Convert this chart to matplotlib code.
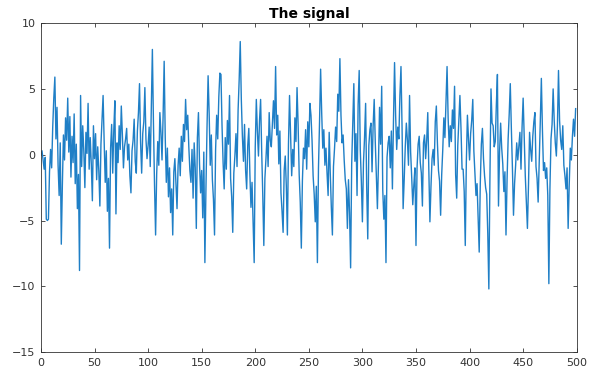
import numpy as np
import matplotlib
matplotlib.use("Agg")
import matplotlib.pyplot as plt

# signal values (500 samples)
signal = [
    0.0, 0.3, -0.4, -1.1, -0.2, -4.9, -5.0, -4.9, -1.3, 0.4,
    -1.0, 2.1, 4.3, 5.9, 1.2, 3.6, -0.8, -3.1, 0.9, -6.8,
    -2.3, 1.5, -0.4, 2.8, 1.1, 4.3, 0.2, 2.9, -1.7, 1.4,
    -0.6, 3.1, -2.2, 0.8, -4.1, -1.5, -8.8, 4.5, -0.9, 2.2,
    0.3, -2.5, 1.7, 0.1, 3.9, -1.1, 1.3, -0.7, -3.5, 2.2,
    -0.3, 1.6, -1.9, 0.6, -1.2, -3.9, 0.8, 2.6, 4.5, 1.0,
    -2.1, 0.3, -4.3, -1.8, -7.1, 0.5, 2.3, -1.4, 1.9, 4.1,
    -4.5, 0.9, -0.6, 2.2, 0.4, 3.7, 1.5, -1.0, 0.6, 1.2,
    2.0, -0.4, 0.8, -1.6, -2.9, 0.3, 1.1, 2.7, -0.5, -1.4,
    1.8, 3.2, 5.4, 0.9, -1.4, 1.6, 2.5, 5.1, 1.2, -0.3,
    0.7, 2.1, -0.9, 3.6, 8.0, 2.4, -2.3, -6.1, -1.5, 1.0,
    -0.8, 3.2, 1.7, -0.4, 2.9, 7.1, 1.3, -2.1, 0.5, -3.2,
    -1.0, -4.4, -2.6, -6.1, -1.3, -0.3, -2.2, -4.1, -0.8, 0.5,
    -1.6, 1.4, -0.5, 2.3, 1.0, 4.2, 1.9, 3.0, 0.6, -1.2,
    -2.1, 0.4, -3.3, 0.9, -1.0, -5.6, 1.3, 3.2, -0.7, -2.9,
    -1.2, -4.8, 0.2, -8.2, -2.5, 2.1, 6.0, 3.1, -0.8, 1.5,
    -1.9, -3.4, -6.1, 0.4, 3.0, 1.2, 4.4, 6.2, 6.1, 2.2,
    -0.6, -2.6, 1.3, -1.1, 2.6, 0.8, 4.5, -1.8, -3.2, -5.9,
    -1.4, -0.1, 1.6, -0.9, 3.4, 5.7, 8.6, 4.2, 1.4, -0.5,
    2.3, -1.2, -2.6, 0.7, 2.0, -1.5, -4.0, -2.1, -5.3, -8.2,
    0.6, 4.2, 1.8, -0.1, 2.6, 4.2, 0.3, -3.0, -6.9, -1.8,
    -0.3, 1.4, -0.9, 3.2, 1.1, 0.6, 2.4, 4.1, 2.0, 6.7,
    1.5, 3.0, -0.7, 1.8, -2.9, -4.3, -5.9, -1.2, -0.1, -2.4,
    -6.1, 0.8, 4.5, 1.3, -1.6, 0.4, -0.9, 2.8, 1.0, 5.1,
    2.3, -1.5, -3.6, -7.1, -2.0, 0.5, -0.3, 1.9, -1.1, 2.5,
    0.6, 3.9, 3.0, 1.1, -1.6, -3.0, -5.1, -2.4, -8.2, -1.0,
    2.5, 6.5, 3.2, 0.5, 1.9, -0.8, 0.5, -1.4, -3.1, 1.7,
    -1.4, -4.0, -6.1, -0.9, 0.5, 2.1, 1.0, 4.6, 3.3, 7.3,
    3.0, 0.9, 1.5, -0.4, -1.9, -2.6, -5.6, -1.9, -4.4, -8.6,
    -0.7, 2.2, 5.4, -0.5, 1.6, -3.1, 3.8, 6.4, 0.4, -2.0,
    -5.1, -0.6, 1.3, 3.9, -2.5, -6.4, 0.7, 1.9, 2.4, -1.3,
    2.2, 4.2, 1.0, -1.5, -4.1, -0.6, 3.6, 0.8, 5.2, -2.7,
    -4.9, -3.1, -8.2, -0.2, 0.9, 1.4, -1.0, 1.8, -2.6, 2.6,
    7.0, 3.0, 0.4, 2.1, 1.2, 4.5, 6.7, 2.1, -4.1, -1.9,
    0.6, 2.4, 1.1, -0.8, 4.5, 0.2, -1.7, -3.8, -2.3, -1.0,
    -6.9, -1.0, 0.8, 1.4, -0.6, -1.4, -3.9, 0.9, 1.5, -0.3,
    1.1, 3.2, -1.2, -5.1, -2.4, -0.3, 0.4, -0.8, 2.5, 3.7,
    0.9, -1.2, -2.0, -4.6, -1.5, 0.4, 2.8, 1.3, 4.1, 6.7,
    2.8, 0.6, 2.2, 1.0, 3.4, 2.0, 5.2, -1.5, -3.3, 0.7,
    2.6, 4.5, 2.0, -1.1, -1.1, -2.8, -6.9, -0.5, 3.0, 1.2,
    -0.4, 1.6, 2.6, 4.2, 0.3, -1.4, -3.1, -2.2, -4.8, -7.4,
    -2.2, 0.8, 2.0, -0.3, -1.6, -2.5, -3.0, -6.0, -10.2, -1.8,
    5.0, 2.4, 2.2, 0.6, 1.0, 3.8, 6.1, -3.9, 0.2, 2.4,
    0.5, -0.7, -2.8, -1.3, -6.1, -1.9, 1.2, 3.1, 5.4, 2.0,
    -1.0, -4.6, -2.2, -0.8, 0.9, -0.4, 0.6, 1.7, -1.1, 2.1,
    4.3, 1.4, -1.6, -3.6, -5.6, -2.3, 1.7, 0.4, -0.5, 1.4,
    2.5, 3.2, -0.9, -1.8, -3.6, -0.7, 2.5, 5.8, 1.9, -1.2,
    -0.6, -1.8, -1.0, -3.1, -9.8, -2.6, 1.2, 2.3, 5.0, 2.6,
    0.9, -0.1, 2.2, 6.4, 2.6, 1.1, 0.4, 2.2, -0.8, -1.6,
    -2.6, -1.0, -5.6, -2.3, 0.5, -0.4, 1.4, 2.7, 1.4, 3.5,
]
xticks = [0, 50, 100, 150, 200, 250, 300, 350, 400, 450, 500]
yticks = [-15, -10, -5, 0, 5, 10]

fig = plt.figure(figsize=(6.02, 3.79), dpi=100)
ax = fig.add_axes([0.068, 0.071, 0.890, 0.868])

x = np.arange(len(signal))
ax.plot(x, signal, color='#1f7fc6', linewidth=1.0)

ax.set_xlim(0, 500)
ax.set_ylim(-15, 10)
ax.set_xticks(xticks)
ax.set_yticks(yticks)

# matlab style box and ticks
ax.tick_params(direction='in', top=True, right=True, length=3, width=0.6,
               labelsize=8, colors='#333333', pad=4)
for s in ax.spines.values():
    s.set_color('#333333')
    s.set_linewidth(0.6)

ax.set_title('The signal', fontsize=10, fontweight='bold', pad=4)

fig.savefig('out.png', dpi=100)
